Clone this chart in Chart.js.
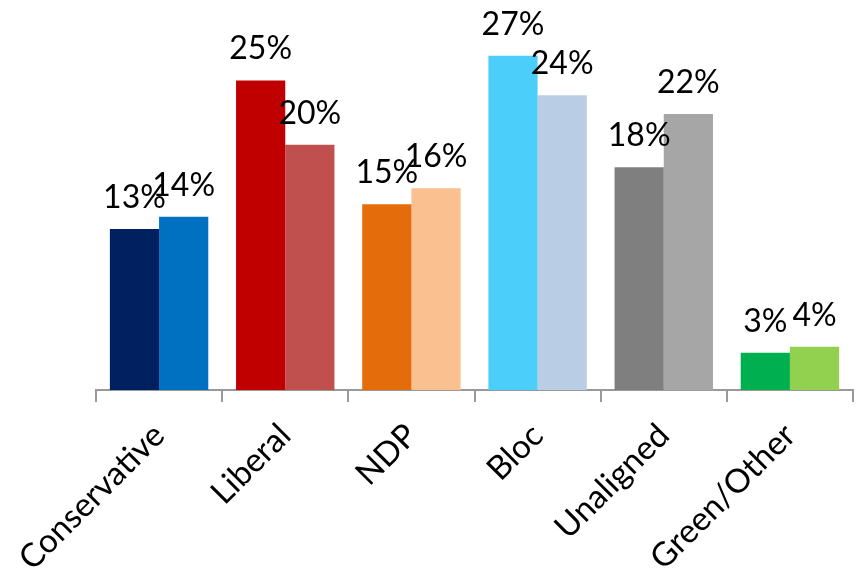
<!DOCTYPE html>
<html>
<head>
<meta charset="utf-8">
<script src="https://cdn.jsdelivr.net/npm/chart.js@4"></script>
<style>
  html, body { margin: 0; padding: 0; background: #fff; }
  #wrap { width: 857px; height: 577px; }
</style>
</head>
<body>
<div id="wrap"><canvas id="partyChart" width="857" height="577"></canvas></div>
<script>
// Party categories
const parties = ["Conservative", "Liberal", "NDP", "Bloc", "Unaligned", "Green/Other"];

// Two series per party (percent)
const firstValues = [13, 25, 15, 27, 18, 3];
const secondValues = [14, 19.8, 16.3, 23.8, 22.3, 3.5];

// Bar colours per party
const firstColors = ["#002060", "#C00000", "#E46C0A", "#4BCFFA", "#7F7F7F", "#00B050"];
const secondColors = ["#0070C0", "#C0504D", "#FAC090", "#B9CDE5", "#A6A6A6", "#92D050"];

// Percent labels above bars
const valueLabels = {
  id: "valueLabels",
  afterDatasetsDraw(chart) {
    const ctx = chart.ctx;
    ctx.save();
    ctx.font = "32px Lato";
    ctx.fillStyle = "#000";
    ctx.textAlign = "center";
    ctx.textBaseline = "alphabetic";
    chart.data.datasets.forEach((ds, i) => {
      chart.getDatasetMeta(i).data.forEach((bar, j) => {
        ctx.fillText(Math.round(ds.data[j]) + "%", bar.x, bar.y - 21);
      });
    });
    ctx.restore();
  }
};

new Chart(document.getElementById("partyChart"), {
  type: "bar",
  data: {
    labels: parties,
    datasets: [
      { label: "Series 1", data: firstValues, backgroundColor: firstColors },
      { label: "Series 2", data: secondValues, backgroundColor: secondColors }
    ]
  },
  options: {
    responsive: false,
    animation: false,
    layout: { padding: { left: 96, right: 4, top: 0, bottom: 0 } },
    datasets: {
      bar: { categoryPercentage: 0.78, barPercentage: 1.0 }
    },
    plugins: {
      legend: { display: false },
      tooltip: { enabled: false }
    },
    scales: {
      x: {
        afterFit(scale) { scale.height = 187; },
        border: { display: true, color: "#999", width: 2 },
        grid: {
          offset: true,
          drawOnChartArea: false,
          drawTicks: true,
          tickLength: 12,
          color: "#999",
          lineWidth: 2
        },
        ticks: {
          minRotation: 45,
          maxRotation: 45,
          color: "#000",
          padding: 14,
          font: { family: "Lato", size: 33 }
        }
      },
      y: {
        display: false,
        min: 0,
        max: 31.5
      }
    }
  },
  plugins: [valueLabels]
});
</script>
</body>
</html>
